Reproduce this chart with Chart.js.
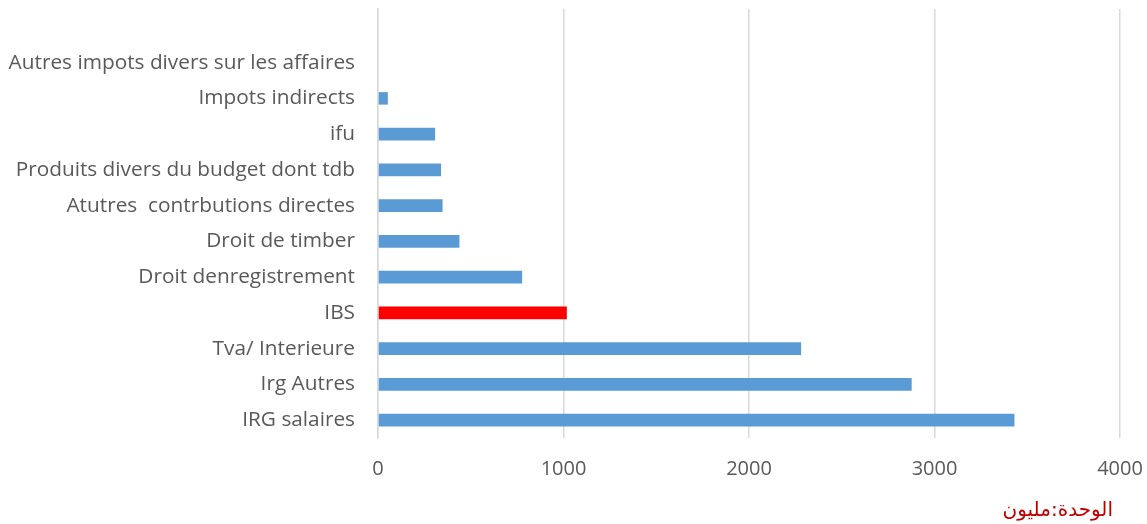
<!DOCTYPE html>
<html>
<head>
<meta charset="utf-8">
<script src="https://cdn.jsdelivr.net/npm/chart.js@4"></script>
<style>
  html, body { margin: 0; padding: 0; background: #fff; overflow: hidden; }
  #wrap { width: 1147px; height: 524px; }
</style>
</head>
<body>
<div id="wrap"><canvas id="graficoImpots"></canvas></div>
<script>
// categorias (de cima para baixo) - a primeira fica vazia como no original
const categorias = [
  '',
  'Autres impots divers sur les affaires',
  'Impots indirects',
  'ifu',
  'Produits divers du budget dont tdb',
  'Atutres  contrbutions directes',
  'Droit de timber',
  'Droit denregistrement',
  'IBS',
  'Tva/ Interieure',
  'Irg Autres',
  'IRG salaires'
];
const valores = [null, 0, 53, 308, 340, 348, 439, 777, 1018, 2281, 2877, 3431];
const ticksX = [0, 1000, 2000, 3000, 4000];
const destaque = 'IBS';
const unidade = 'الوحدة:مليون';

const cores = categorias.map(c => c === destaque ? '#FF0000' : '#5B9BD5');

// escreve a unidade embaixo, à direita
const pluginUnidade = {
  id: 'unidade',
  afterDraw(chart) {
    const c = chart.ctx;
    c.save();
    c.font = '20px "DejaVu Sans"';
    c.fillStyle = '#C00000';
    c.textAlign = 'right';
    c.textBaseline = 'middle';
    c.fillText(unidade, chart.chartArea.right - 7, 511);
    c.restore();
  }
};

const ctx = document.getElementById('graficoImpots');
new Chart(ctx.getContext('2d'), {
  type: 'bar',
  data: {
    labels: categorias,
    datasets: [{
      data: valores,
      backgroundColor: cores,
      borderWidth: 0,
      barPercentage: 0.35,
      categoryPercentage: 1
    }]
  },
  plugins: [pluginUnidade],
  options: {
    indexAxis: 'y',
    responsive: true,
    maintainAspectRatio: false,
    animation: false,
    layout: { padding: { top: 9, right: 27, left: 0, bottom: 36 } },
    plugins: {
      legend: { display: false },
      tooltip: { enabled: false }
    },
    scales: {
      x: {
        min: ticksX[0],
        max: ticksX[ticksX.length - 1],
        afterBuildTicks: s => { s.ticks = ticksX.map(v => ({ value: v })); },
        afterFit: s => {
          s.height = 50;
          s.paddingLeft = 0;
          s.paddingRight = 0;
        },
        grid: { color: '#D9D9D9', lineWidth: 1.5, drawTicks: false },
        border: { display: false },
        ticks: {
          color: '#595959',
          font: { family: 'Open Sans', size: 20 },
          padding: 19,
          callback: v => String(v)
        }
      },
      y: {
        grid: { display: false },
        border: { display: true, color: '#D9D9D9', width: 1.5 },
        afterFit: s => {
          s.width = 378;
          s.paddingTop = 0;
          s.paddingBottom = 0;
        },
        ticks: {
          color: '#595959',
          font: { family: 'Open Sans', size: 20.8 },
          padding: 15,
          autoSkip: false
        }
      }
    }
  }
});
</script>
</body>
</html>
